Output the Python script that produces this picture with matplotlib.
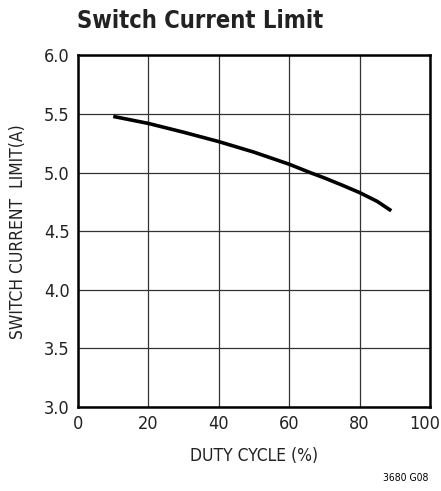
import matplotlib
matplotlib.use("Agg")
import matplotlib.pyplot as plt
import matplotlib.transforms as mtransforms
import numpy as np

plt.rcParams["font.family"] = ["DejaVu Sans"]
plt.rcParams["font.stretch"] = "condensed"

# curve
duty = [10, 20, 30, 40, 50, 60, 66, 70, 75, 80, 85, 89]
ilim = [5.48, 5.42, 5.345, 5.265, 5.175, 5.072, 5.0, 4.955, 4.894, 4.83, 4.755, 4.675]

fig = plt.figure(figsize=(4.41, 4.91), dpi=100)
ax = fig.add_axes([0.177, 0.171, 0.798, 0.716])

ax.plot(duty, ilim, color="black", lw=2.6, solid_capstyle="butt")

ax.set_xlim(0, 100)
ax.set_ylim(3.0, 6.0)
ax.set_xticks(np.arange(0, 101, 20))
ax.set_yticks(np.arange(3.0, 6.01, 0.5))
ax.set_yticklabels([f"{v:.1f}" for v in np.arange(3.0, 6.01, 0.5)])
ax.grid(True, color="#333333", lw=0.9)
ax.tick_params(length=0, labelsize=13, labelcolor="#222222")
ax.tick_params(axis="y", pad=6)
ax.tick_params(axis="x", pad=6)
for s in ax.spines.values():
    s.set_linewidth(1.8)

# nudge "100" left so it stays inside the figure
last = ax.xaxis.get_major_ticks()[-1].label1
last.set_transform(last.get_transform()
                   + mtransforms.ScaledTranslation(-4 / 72, 0, fig.dpi_scale_trans))

ax.set_xlabel("DUTY CYCLE (%)", fontsize=12.5, labelpad=10, color="#222222")
ax.set_ylabel("SWITCH CURRENT  LIMIT(A)", fontsize=12.5, labelpad=12, color="#222222")
fig.text(0.175, 0.957, "Switch Current Limit", fontsize=17, fontweight="bold",
         ha="left", va="center", color="#222222")
fig.text(0.972, 0.016, "3680 G08", fontsize=7.5, ha="right", va="bottom")

fig.savefig("out.png", dpi=100)
